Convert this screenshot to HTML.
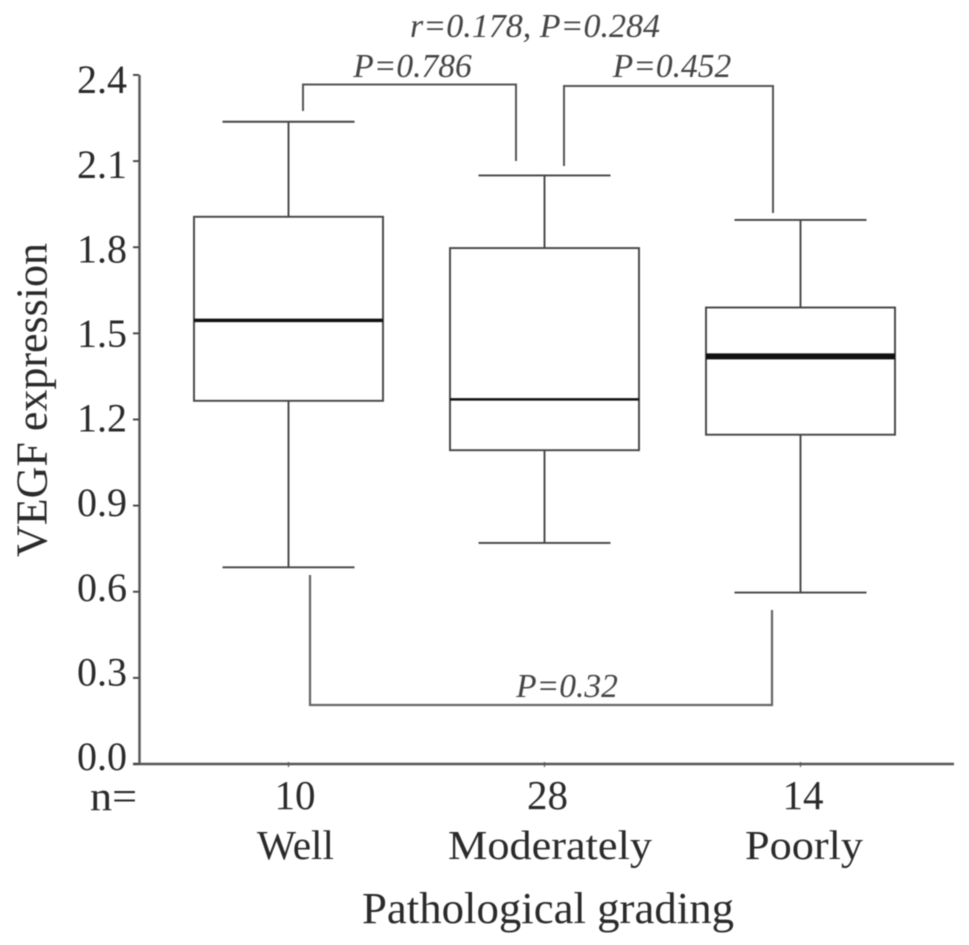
<!DOCTYPE html>
<html>
<head>
<meta charset="utf-8">
<style>
html,body{margin:0;padding:0;background:#fff;width:969px;height:945px;overflow:hidden}
svg{display:block;font-family:"Liberation Serif",serif;filter:blur(0.45px)}
text{fill:#2a2a2a}
.it{font-style:italic;font-size:33.5px;fill:#444}
</style>
</head>
<body>
<svg id="chart" width="969" height="945" viewBox="0 0 969 945" xmlns="http://www.w3.org/2000/svg">
<text transform="translate(46.5,400) rotate(-90)" text-anchor="middle" font-size="44">VEGF expression</text>
<text x="548" y="923" text-anchor="middle" font-size="44" textLength="372" lengthAdjust="spacingAndGlyphs">Pathological grading</text>
<text x="90" y="810" font-size="41" textLength="47" lengthAdjust="spacingAndGlyphs">n=</text>
<text class="it" x="535" y="37" text-anchor="middle" textLength="250" lengthAdjust="spacingAndGlyphs">r=0.178, P=0.284</text>
<text class="it" x="412.5" y="77" text-anchor="middle">P=0.786</text>
<text class="it" x="672" y="77" text-anchor="middle">P=0.452</text>
<text class="it" x="567" y="697" text-anchor="middle">P=0.32</text>
<path d="M303 111V84.5H516V161" fill="none" stroke="#555" stroke-width="2"/>
<path d="M564 166V86H773V213" fill="none" stroke="#555" stroke-width="2"/>
<path d="M310 575V705H772V610" fill="none" stroke="#666" stroke-width="2.2"/>
</svg>
<script>
const categories = ['Well', 'Moderately', 'Poorly'];
const sampleSizes = ['10', '28', '14'];
const whiskerHigh = [2.237, 2.05, 1.895];
const quartile3 = [1.906, 1.797, 1.59];
const medians = [1.545, 1.27, 1.42];
const quartile1 = [1.265, 1.093, 1.147];
const whiskerLow = [0.685, 0.77, 0.597];
const yTicks = ['0.0', '0.3', '0.6', '0.9', '1.2', '1.5', '1.8', '2.1', '2.4'];

const svg = document.getElementById('chart');
const NS = 'http://www.w3.org/2000/svg';
const yScale = v => 764 - v * 287.1;
const yLabelBaseline = v => 770 - v * 282;
const xScale = i => 288.5 + 256 * i;
const medianStroke = [3.5, 2.5, 6];
const categoryLabelWidths = [77, 204, 118];
const categoryLabelOffsets = [7, 5.5, 3.5];
const sampleLabelOffsets = [6.5, 3, 2.5];

function make(tag, attrs, parent) {
  const el = document.createElementNS(NS, tag);
  for (const k in attrs) el.setAttribute(k, attrs[k]);
  (parent || svg).appendChild(el);
  return el;
}
const axisStyle = { stroke: '#555', 'stroke-width': 2.4, fill: 'none' };
const lineStyle = { stroke: '#444', 'stroke-width': 1.9, fill: 'none' };

const yAxis = make('line', Object.assign({ x1: 139.5, x2: 139.5, y1: yScale(2.4), y2: yScale(0) + 1 }, axisStyle));


const xAxis = make('line', Object.assign({ x1: 133, x2: 954, y1: yScale(0), y2: yScale(0) }, axisStyle));



yTicks.forEach(t => {
  const v = parseFloat(t);
  const y = yScale(v);
  const tick = make('line', Object.assign({ x1: 133, x2: 139, y1: y, y2: y }, lineStyle));
  
  
  const label = make('text', { x: 127, y: yLabelBaseline(v), 'font-size': 40, 'text-anchor': 'end' });
  
  
  label.textContent = t;
});

categories.forEach((c, i) => {
  const x = xScale(i);
  const g = make('g', {});
  
  
  make('line', Object.assign({ x1: x, x2: x, y1: yScale(whiskerHigh[i]), y2: yScale(quartile3[i]) }, lineStyle), g);
  make('line', Object.assign({ x1: x, x2: x, y1: yScale(quartile1[i]), y2: yScale(whiskerLow[i]) }, lineStyle), g);
  make('line', Object.assign({ x1: x - 66, x2: x + 66, y1: yScale(whiskerHigh[i]), y2: yScale(whiskerHigh[i]) }, lineStyle), g);
  make('line', Object.assign({ x1: x - 66, x2: x + 66, y1: yScale(whiskerLow[i]), y2: yScale(whiskerLow[i]) }, lineStyle), g);
  make('rect', Object.assign({ x: x - 94.5, width: 189, y: yScale(quartile3[i]), height: yScale(quartile1[i]) - yScale(quartile3[i]) }, lineStyle), g);
  make('line', { x1: x - 94.5, x2: x + 94.5, y1: yScale(medians[i]), y2: yScale(medians[i]), stroke: '#111', 'stroke-width': medianStroke[i] }, g);

  const tick = make('line', { x1: x, x2: x, y1: yScale(0) - 2, y2: yScale(0) + 3, stroke: '#555', 'stroke-width': 1.2 });
  
  

  const n = make('text', { x: x + sampleLabelOffsets[i], y: 809, 'text-anchor': 'middle', 'font-size': 41 });
  
  
  n.textContent = sampleSizes[i];
  const cat = make('text', { x: x + categoryLabelOffsets[i], y: 859, 'text-anchor': 'middle', 'font-size': 41, textLength: categoryLabelWidths[i], lengthAdjust: 'spacingAndGlyphs' });
  
  
  cat.textContent = c;
});
</script>
</body>
</html>
